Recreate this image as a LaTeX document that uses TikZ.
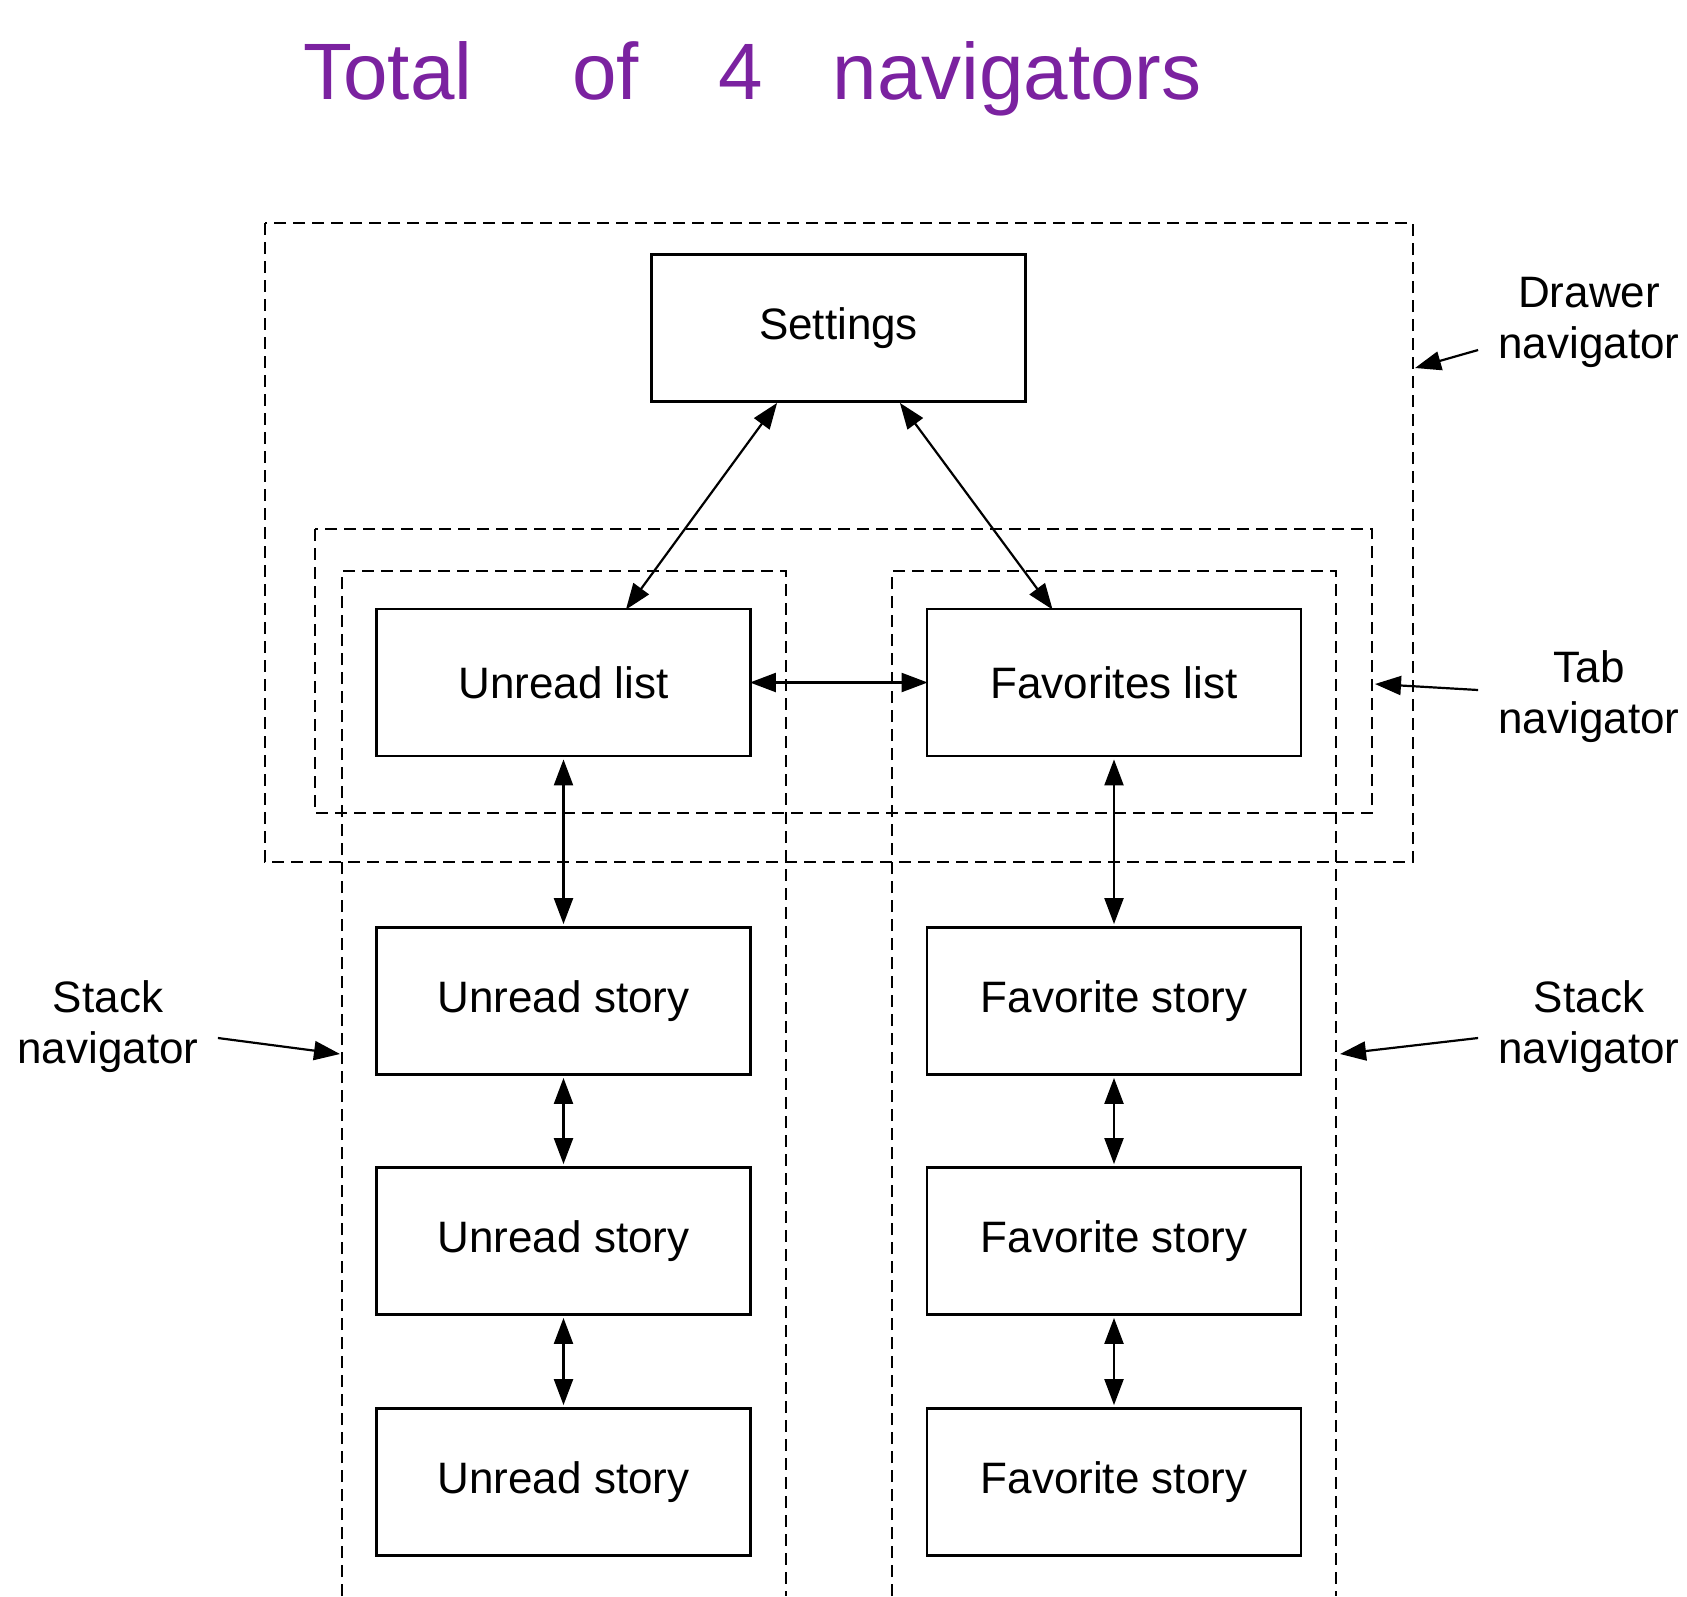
\documentclass[tikz,border=0pt]{standalone}
\usepackage{fontspec}
\setmainfont{Liberation Sans}
\usepackage{tikz}
\usetikzlibrary{positioning, arrows.meta}

\definecolor{ink}{RGB}{123,34,160}

\tikzset{
  screen/.style={draw, line width=1.4pt, minimum width=187pt, minimum height=73.5pt,
    inner sep=0pt, font=\fontsize{22}{26}\selectfont},
  navbox/.style={draw, line width=1pt, dash pattern=on 6pt off 3.5pt},
  navname/.style={align=center, inner sep=0pt, font=\fontsize{22}{25.5}\selectfont},
  link/.style={{Triangle[length=13pt,width=9.5pt]}-{Triangle[length=13pt,width=9.5pt]}, line width=1.1pt},
  pointer/.style={-{Triangle[length=13pt,width=9.5pt]}, line width=1.1pt}
}

\begin{document}
\begin{tikzpicture}[x=0.5pt, y=-0.5pt, node distance=120pt, on grid]
  \useasboundingbox (0,0) rectangle (1687,1596);

  % handwritten note
  \node[anchor=base west, inner sep=0pt, text=ink, font=\fontsize{40}{48}\selectfont] (title) at (303,99)
    {Total\hspace{50pt}of\hspace{39.5pt}4\hspace{35pt}navigators};

  % navigators
  \draw[navbox] (265,223) rectangle (1413,862);
  \draw[navbox] (315,529) rectangle (1372,813);
  \draw[navbox] (342,1596) |- (786,571) -- (786,1596);
  \draw[navbox] (892,1596) |- (1336,571) -- (1336,1596);

  % screens
  \node[screen] (ulist) at (563.5,682.5) {Unread list};
  \node[screen] (flist) [right=275.25pt of ulist] {Favorites list};
  \node[screen] (settings) [above right=177.25pt and 137.5pt of ulist] {Settings};
  \node[screen] (ustory1) [below=159.25pt of ulist] {Unread story};
  \node[screen] (ustory2) [below=of ustory1] {Unread story};
  \node[screen] (ustory3) [below=120.5pt of ustory2] {Unread story};
  \node[screen] (fstory1) [below=159.25pt of flist] {Favorite story};
  \node[screen] (fstory2) [below=of fstory1] {Favorite story};
  \node[screen] (fstory3) [below=120.5pt of fstory2] {Favorite story};

  \path[link]
  ([xshift=63.5pt]settings.south west) edge ([xshift=-63pt,yshift=-1pt]ulist.north east)
  ([xshift=-63.5pt]settings.south east) edge ([xshift=63.5pt,yshift=-1pt]flist.north west)
  ([xshift=-1pt]ulist.east) edge ([xshift=1pt]flist.west)
  ([yshift=-1pt]ulist.south) edge ([yshift=1pt]ustory1.north)
  ([yshift=-1pt]ustory1.south) edge ([yshift=1pt]ustory2.north)
  ([yshift=-1pt]ustory2.south) edge ([yshift=1pt]ustory3.north)
  ([yshift=-1pt]flist.south) edge ([yshift=1pt]fstory1.north)
  ([yshift=-1pt]fstory1.south) edge ([yshift=1pt]fstory2.north)
  ([yshift=-1pt]fstory2.south) edge ([yshift=1pt]fstory3.north);

  % labels
  \node[navname] (drawer) at (1589,322) {Drawer\\navigator};
  \node[navname] (tab) at (1589,697) {Tab\\navigator};
  \node[navname] (lstack) at (108,1027) {Stack\\navigator};
  \node[navname] (rstack) at (1589,1027) {Stack\\navigator};

  \coordinate (drawerpt) at (1415,368);
  \coordinate (tabpt) at (1375,684);
  \coordinate (lstackpt) at (340,1054);
  \coordinate (rstackpt) at (1340,1054);

  \draw[pointer] ([shift={(-10pt,-14pt)}]drawer.west) -- (drawerpt);
  \draw[pointer] ([shift={(-10pt,3.5pt)}]tab.west) -- (tabpt);
  \draw[pointer] ([shift={(9.5pt,-5.5pt)}]lstack.east) -- (lstackpt);
  \draw[pointer] ([shift={(-10pt,-5.5pt)}]rstack.west) -- (rstackpt);
\end{tikzpicture}
\end{document}
